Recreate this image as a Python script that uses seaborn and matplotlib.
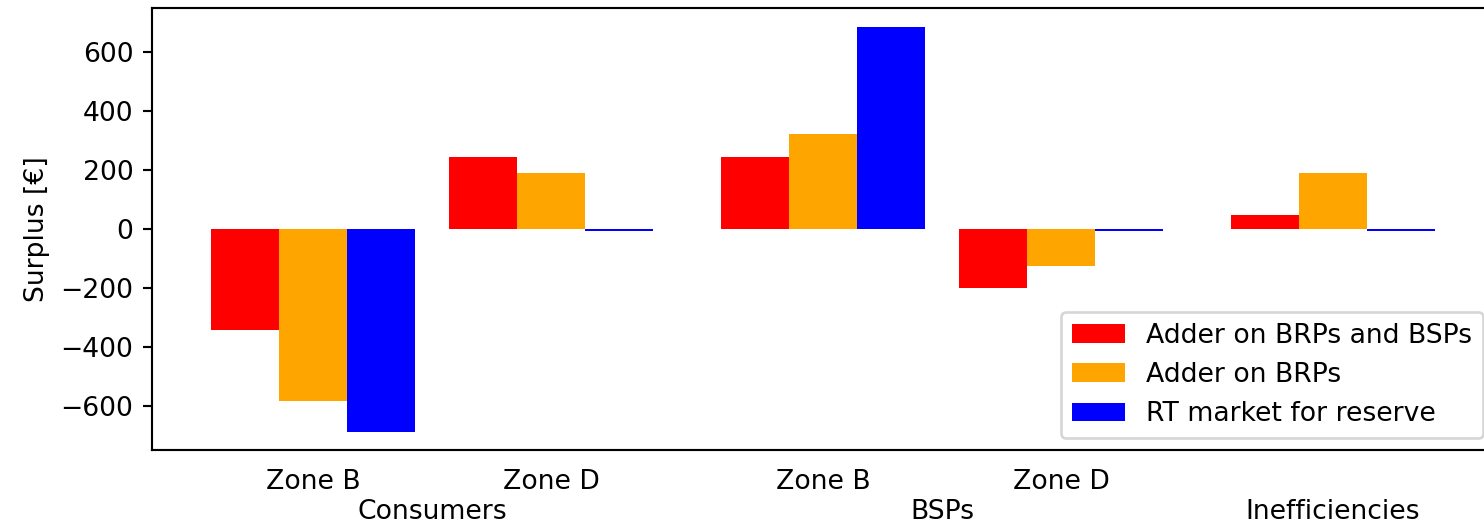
import matplotlib
matplotlib.use("Agg")
import matplotlib.pyplot as plt
import matplotlib.transforms as mtransforms
import seaborn as sns
import pandas as pd

# Data
zone_labels = ["Zone B", "Zone D", "Zone B", "Zone D", ""]
group_labels = ["Consumers", "BSPs", "Inefficiencies"]
series_names = ["Adder on BRPs and BSPs", "Adder on BRPs", "RT market for reserve"]
adder_brps_bsps = [-342, 244, 244, -200, 47]
adder_brps = [-583, 190, 322, -125, 190]
rt_market = [-688, -8, 685, -8, -8]

# layout (positions of each category group on the x axis)
positions = [0.0, 0.875, 1.875, 2.75, 3.75]
group_positions = [0.4375, 2.3125, 3.75]
colors = ["#ff0000", "#ffa500", "#0000ff"]

rows = []
for name, vals in zip(series_names, [adder_brps_bsps, adder_brps, rt_market]):
    for p, v in zip(positions, vals):
        rows.append({"pos": p, "value": v, "series": name})
df = pd.DataFrame(rows)

DPI = 192
W, H = 1484, 524
fig = plt.figure(figsize=(W / DPI, H / DPI), dpi=DPI)
ax = fig.add_axes([152 / W, 1 - 450 / H, (1494 - 152) / W, (450 - 8) / H])

sns.barplot(data=df, x="pos", y="value", hue="series", hue_order=series_names,
            palette=colors, saturation=1, errorbar=None, native_scale=True,
            width=0.75 / 0.875, gap=0, ax=ax, linewidth=0)

ax.set_xlim(-0.592, 4.342)
ax.set_ylim(-750, 750)
ax.set_yticks([-600, -400, -200, 0, 200, 400, 600])
ax.set_xticks(positions)
ax.set_xticklabels(zone_labels)
ax.tick_params(axis="x", length=0, pad=7.0, labelsize=10)
ax.tick_params(axis="y", labelsize=10)
ax.set_xlabel("")
ax.set_ylabel("Surplus [€]", fontsize=10)

trans = mtransforms.blended_transform_factory(ax.transData, fig.transFigure)
for gp, gl in zip(group_positions, group_labels):
    ax.text(gp, 1 - 512 / H, gl, transform=trans, ha="center", va="center", fontsize=10)

handles, labels = ax.get_legend_handles_labels()
ax.legend(handles, labels, loc="lower right",
          bbox_to_anchor=(1483 / W, 1 - 438 / H),
          bbox_transform=fig.transFigure, fontsize=10, title=None,
          borderaxespad=0)

fig.savefig("out.png", dpi=DPI)
